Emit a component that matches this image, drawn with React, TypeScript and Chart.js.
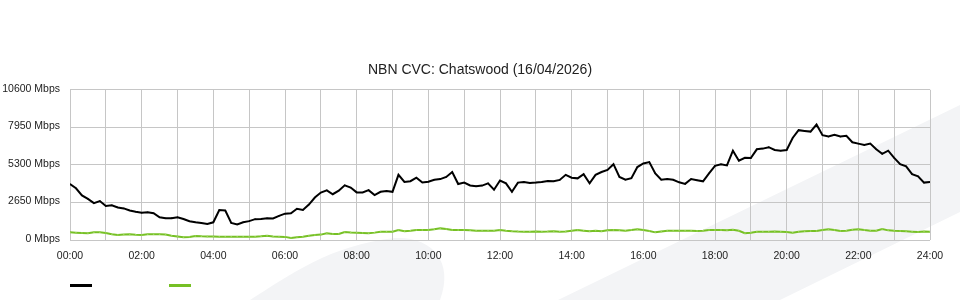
import { useEffect, useRef } from "react";
import { Chart, registerables } from "chart.js";

Chart.register(...registerables);

const TITLE = "NBN CVC: Chatswood (16/04/2026)";
const STEP_MINUTES = 10;
const Y_MAX = 10600;
const Y_STEP = 2650;
const X_TICK_LABELS = ["00:00", "02:00", "04:00", "06:00", "08:00", "10:00", "12:00", "14:00", "16:00", "18:00", "20:00", "22:00", "24:00"];

// black series (Mbps), one value every 10 minutes from 00:00 to 24:00
const primaryMbps = [
  3950, 3650, 3150, 2900, 2600, 2750, 2400, 2450, 2300, 2230,
  2080, 2000, 1930, 1960, 1890, 1600, 1530, 1540, 1600, 1480,
  1320, 1250, 1200, 1130, 1250, 2120, 2080, 1200, 1100, 1250,
  1330, 1470, 1480, 1530, 1520, 1700, 1860, 1880, 2200, 2120,
  2500, 3000, 3350, 3500, 3230, 3480, 3860, 3700, 3360, 3350,
  3520, 3170, 3400, 3460, 3400, 4600, 4100, 4150, 4400, 4060,
  4110, 4250, 4300, 4450, 4800, 3950, 4050, 3850, 3800, 3840,
  4000, 3550, 4200, 4000, 3400, 4050, 4100, 4030, 4050, 4090,
  4170, 4140, 4240, 4600, 4400, 4350, 4650, 4000, 4600, 4800,
  4950, 5350, 4450, 4250, 4360, 5150, 5400, 5500, 4700, 4250,
  4300, 4250, 4070, 3960, 4300, 4220, 4140, 4700, 5230, 5340,
  5260, 6300, 5600, 5800, 5780, 6400, 6450, 6550, 6350, 6300,
  6350, 7200, 7750, 7700, 7650, 8150, 7400, 7300, 7420, 7300,
  7350, 6900, 6800, 6700, 6800, 6400, 6080, 6300, 5800, 5350,
  5200, 4650, 4500, 4050, 4100,
];

// green series (Mbps)
const secondaryMbps = [
  540, 520, 500, 470, 540, 540, 500, 400, 350, 380,
  400, 370, 350, 400, 400, 400, 380, 300, 250, 190,
  220, 280, 260, 250, 240, 235, 235, 235, 235, 235,
  235, 235, 260, 300, 240, 235, 220, 150, 200, 235,
  300, 350, 380, 470, 420, 430, 560, 530, 520, 500,
  470, 520, 590, 590, 590, 700, 620, 650, 710, 710,
  710, 760, 820, 780, 710, 710, 710, 690, 660, 660,
  660, 660, 700, 650, 620, 600, 590, 590, 600, 590,
  600, 620, 590, 600, 650, 700, 660, 620, 660, 620,
  680, 700, 690, 650, 700, 760, 700, 640, 540, 600,
  660, 650, 660, 660, 650, 640, 660, 710, 700, 710,
  690, 720, 650, 480, 520, 580, 590, 590, 600, 590,
  560, 520, 580, 620, 640, 640, 700, 760, 700, 640,
  650, 720, 760, 700, 660, 650, 780, 680, 650, 640,
  620, 590, 560, 600, 590,
];

const FONT = "'Liberation Sans', Arial, sans-serif";
const GRID = "#c6c6c6";

const backgroundPlugin = {
  id: "bgShapes",
  beforeDraw(chart: any) {
    const { ctx, width, height } = chart;
    ctx.save();
    ctx.fillStyle = "#ffffff";
    ctx.fillRect(0, 0, width, height);
    ctx.fillStyle = "#f3f4f6";
    // bottom-left leaf
    ctx.beginPath();
    ctx.moveTo(250, 300);
    ctx.bezierCurveTo(290, 275, 330, 245, 395, 238);
    ctx.bezierCurveTo(430, 236, 455, 260, 440, 300);
    ctx.closePath();
    ctx.fill();
    // right diagonal band
    ctx.beginPath();
    ctx.moveTo(558, 300);
    ctx.lineTo(960, 105);
    ctx.lineTo(960, 212);
    ctx.lineTo(780, 300);
    ctx.closePath();
    ctx.fill();
    ctx.restore();
  },
};

const legendPlugin = {
  id: "lineLegend",
  afterDraw(chart: any) {
    const { ctx } = chart;
    const spots = [70, 169];
    ctx.save();
    chart.data.datasets.forEach((ds: any, i: number) => {
      ctx.strokeStyle = ds.borderColor;
      ctx.lineWidth = 3;
      ctx.beginPath();
      ctx.moveTo(spots[i], 285.5);
      ctx.lineTo(spots[i] + 22, 285.5);
      ctx.stroke();
    });
    ctx.restore();
  },
};

export default function App() {
  const ref = useRef<HTMLCanvasElement | null>(null);

  useEffect(() => {
    if (!ref.current) return;
    const chart = new Chart(ref.current, {
      type: "line",
      data: {
        datasets: [
          {
            label: "",
            data: primaryMbps.map((v, i) => ({ x: i * STEP_MINUTES, y: v })),
            borderColor: "#000000",
            backgroundColor: "#000000",
            borderWidth: 2,
            pointRadius: 0.8,
            pointStyle: "rect",
            pointBorderWidth: 0,
            tension: 0,
          },
          {
            label: "",
            data: secondaryMbps.map((v, i) => ({ x: i * STEP_MINUTES, y: v })),
            borderColor: "#76c025",
            backgroundColor: "#9bd65a",
            borderWidth: 2,
            pointRadius: 1,
            pointStyle: "rect",
            pointBorderWidth: 0,
            tension: 0,
          },
        ],
      },
      options: {
        responsive: false,
        animation: false,
        events: [],
        layout: { padding: { left: 0, right: 0, top: 0, bottom: 40 } },
        plugins: {
          legend: { display: false },
          tooltip: { enabled: false },
          title: {
            display: true,
            text: TITLE,
            color: "#222",
            font: { family: FONT, size: 14, weight: "normal" },
            padding: { top: 62, bottom: 11 },
          },
        },
        scales: {
          x: {
            type: "linear",
            min: 0,
            max: 1440,
            grid: { color: GRID, lineWidth: 1, drawTicks: false },
            border: { display: false },
            ticks: {
              stepSize: 60,
              autoSkip: false,
              maxRotation: 0,
              padding: 10,
              color: "#222",
              font: { family: FONT, size: 10.5 },
              callback: (v: any) => (Number(v) % 120 === 0 ? X_TICK_LABELS[Number(v) / 120] : ""),
            },
            afterFit: (s: any) => {
              s.height = 20;
              s.paddingRight = 30;
            },
          },
          y: {
            min: 0,
            max: Y_MAX,
            grid: { color: GRID, lineWidth: 1, drawTicks: false },
            border: { display: false },
            ticks: {
              stepSize: Y_STEP,
              padding: 10,
              labelOffset: -1,
              color: "#222",
              font: { family: FONT, size: 10.5 },
              callback: (v: any) => `${v} Mbps`,
            },
            afterFit: (s: any) => {
              s.width = 70;
            },
          },
        },
      },
      plugins: [backgroundPlugin, legendPlugin],
    });
    return () => chart.destroy();
  }, []);

  return (
    <div style={{ position: "absolute", left: 0, top: 0, width: 960, height: 300 }}>
      <canvas ref={ref} width={960} height={300} style={{ display: "block" }} />
    </div>
  );
}
